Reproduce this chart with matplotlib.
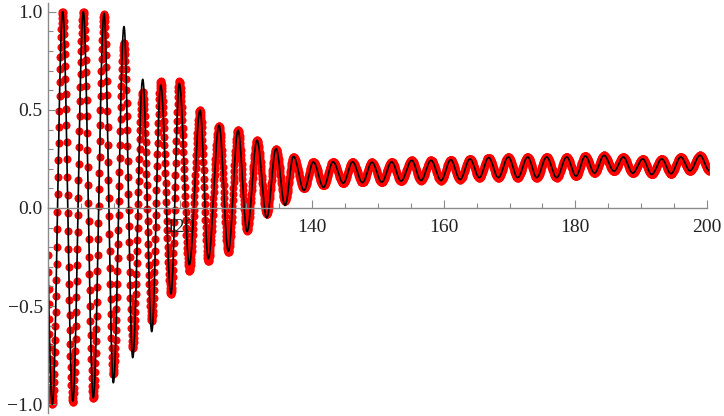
import numpy as np
import matplotlib as mpl
mpl.use('Agg')
import matplotlib.pyplot as plt
from matplotlib.ticker import MultipleLocator, FixedLocator

# turning points (x) of the signal
ext_x = [99.06, 100.62, 102.20, 103.72, 105.33, 106.84, 108.47, 109.88, 111.50, 112.82,
         114.34, 115.71, 117.07, 118.63, 119.89, 121.41, 123.04, 124.29, 125.92, 127.33,
         128.80, 130.17, 131.68, 133.16, 134.57, 135.93, 137.22, 138.81, 140.23, 141.78,
         143.22, 144.78, 146.18, 147.69, 149.13, 150.61, 152.12, 153.54, 155.16, 156.57,
         158.09, 159.61, 161.08, 162.49, 164.01, 165.42, 166.84, 168.30, 169.82, 171.24,
         172.76, 174.13, 175.64, 177.16, 178.68, 180.09, 181.50, 182.90, 184.34, 185.86,
         187.27, 188.70, 190.21, 191.58, 193.10, 194.51, 195.98, 197.39, 198.91, 200.35]

# black curve values at those points
line_y = [1.0, -1.0, 1.0, -0.985, 1.0, -0.968, 0.993, -0.891, 0.925, -0.763,
          0.656, -0.630, 0.627, -0.437, 0.635, -0.289, 0.499, -0.259, 0.422, -0.221,
          0.396, -0.120, 0.345, -0.050, 0.303, 0.013, 0.263, 0.090, 0.234, 0.106,
          0.235, 0.127, 0.235, 0.130, 0.233, 0.132, 0.235, 0.137, 0.243, 0.140,
          0.243, 0.140, 0.246, 0.145, 0.250, 0.155, 0.257, 0.155, 0.260, 0.155,
          0.260, 0.155, 0.260, 0.155, 0.260, 0.163, 0.265, 0.178, 0.268, 0.188,
          0.260, 0.178, 0.250, 0.171, 0.250, 0.175, 0.260, 0.190, 0.268, 0.190]

# red sampled points at the same turning points
dots_y = [1.0, -1.0, 1.0, -0.990, 1.0, -0.970, 0.990, -0.848, 0.841, -0.712,
          0.592, -0.575, 0.645, -0.440, 0.645, -0.320, 0.500, -0.270, 0.420, -0.225,
          0.400, -0.115, 0.345, -0.030, 0.300, 0.035, 0.260, 0.100, 0.235, 0.115,
          0.235, 0.127, 0.235, 0.130, 0.233, 0.132, 0.235, 0.137, 0.243, 0.140,
          0.243, 0.140, 0.246, 0.145, 0.250, 0.155, 0.257, 0.155, 0.260, 0.155,
          0.260, 0.155, 0.260, 0.155, 0.260, 0.163, 0.265, 0.178, 0.268, 0.188,
          0.260, 0.178, 0.250, 0.171, 0.250, 0.175, 0.260, 0.190, 0.268, 0.190]

x_labels = [120, 140, 160, 180, 200]
y_ticks = [-1.0, -0.5, 0.0, 0.5, 1.0]


def smooth(xs, xk, yk):
    # half-cosine between consecutive turning points
    xk = np.asarray(xk)
    yk = np.asarray(yk)
    i = np.clip(np.searchsorted(xk, xs) - 1, 0, len(xk) - 2)
    t = (xs - xk[i]) / (xk[i + 1] - xk[i])
    return yk[i] + (yk[i + 1] - yk[i]) * (1 - np.cos(np.pi * t)) / 2


if __name__ == '__main__':
    plt.rcParams['font.family'] = ['Liberation Serif', 'DejaVu Serif']

    fig = plt.figure(figsize=(7.24, 4.16), dpi=100)
    ax = fig.add_axes([0.0666, 0.0072, 0.9131, 0.9856])

    xd = np.arange(ext_x[0], ext_x[-1], 0.045)
    ax.plot(xd, smooth(xd, ext_x, dots_y), 'o', color='red', ms=5.8, mew=0, zorder=1.5)
    xl = np.linspace(ext_x[0], ext_x[-1], 8000)
    ax.plot(xl, smooth(xl, ext_x, line_y), color='black', lw=1.2, zorder=2)

    ax.set_xlim(100, 200.32)
    ax.set_ylim(-1.045, 1.045)

    gray = '#8a8a8a'
    for s in ['top', 'right']:
        ax.spines[s].set_visible(False)
    ax.spines['bottom'].set_position(('data', 0))
    ax.spines['bottom'].set_bounds(100, 200)
    for s in ['left', 'bottom']:
        ax.spines[s].set_color(gray)
        ax.spines[s].set_linewidth(1.0)

    ax.xaxis.set_major_locator(FixedLocator(x_labels))
    ax.xaxis.set_minor_locator(MultipleLocator(5))
    ax.set_xticklabels([str(v) for v in x_labels])
    ax.yaxis.set_major_locator(FixedLocator(y_ticks))
    ax.yaxis.set_minor_locator(MultipleLocator(0.1))
    ax.set_yticklabels([('%.1f' % v).replace('-', '\u2212') for v in y_ticks])

    ax.tick_params(which='both', direction='in', color=gray, width=0.8,
                   labelsize=14, labelcolor='#222222')
    ax.tick_params(which='major', length=6)
    ax.tick_params(which='minor', length=3.5)
    ax.tick_params(axis='y', pad=4)
    ax.tick_params(axis='x', pad=8)

    fig.savefig('out.png', dpi=100)
